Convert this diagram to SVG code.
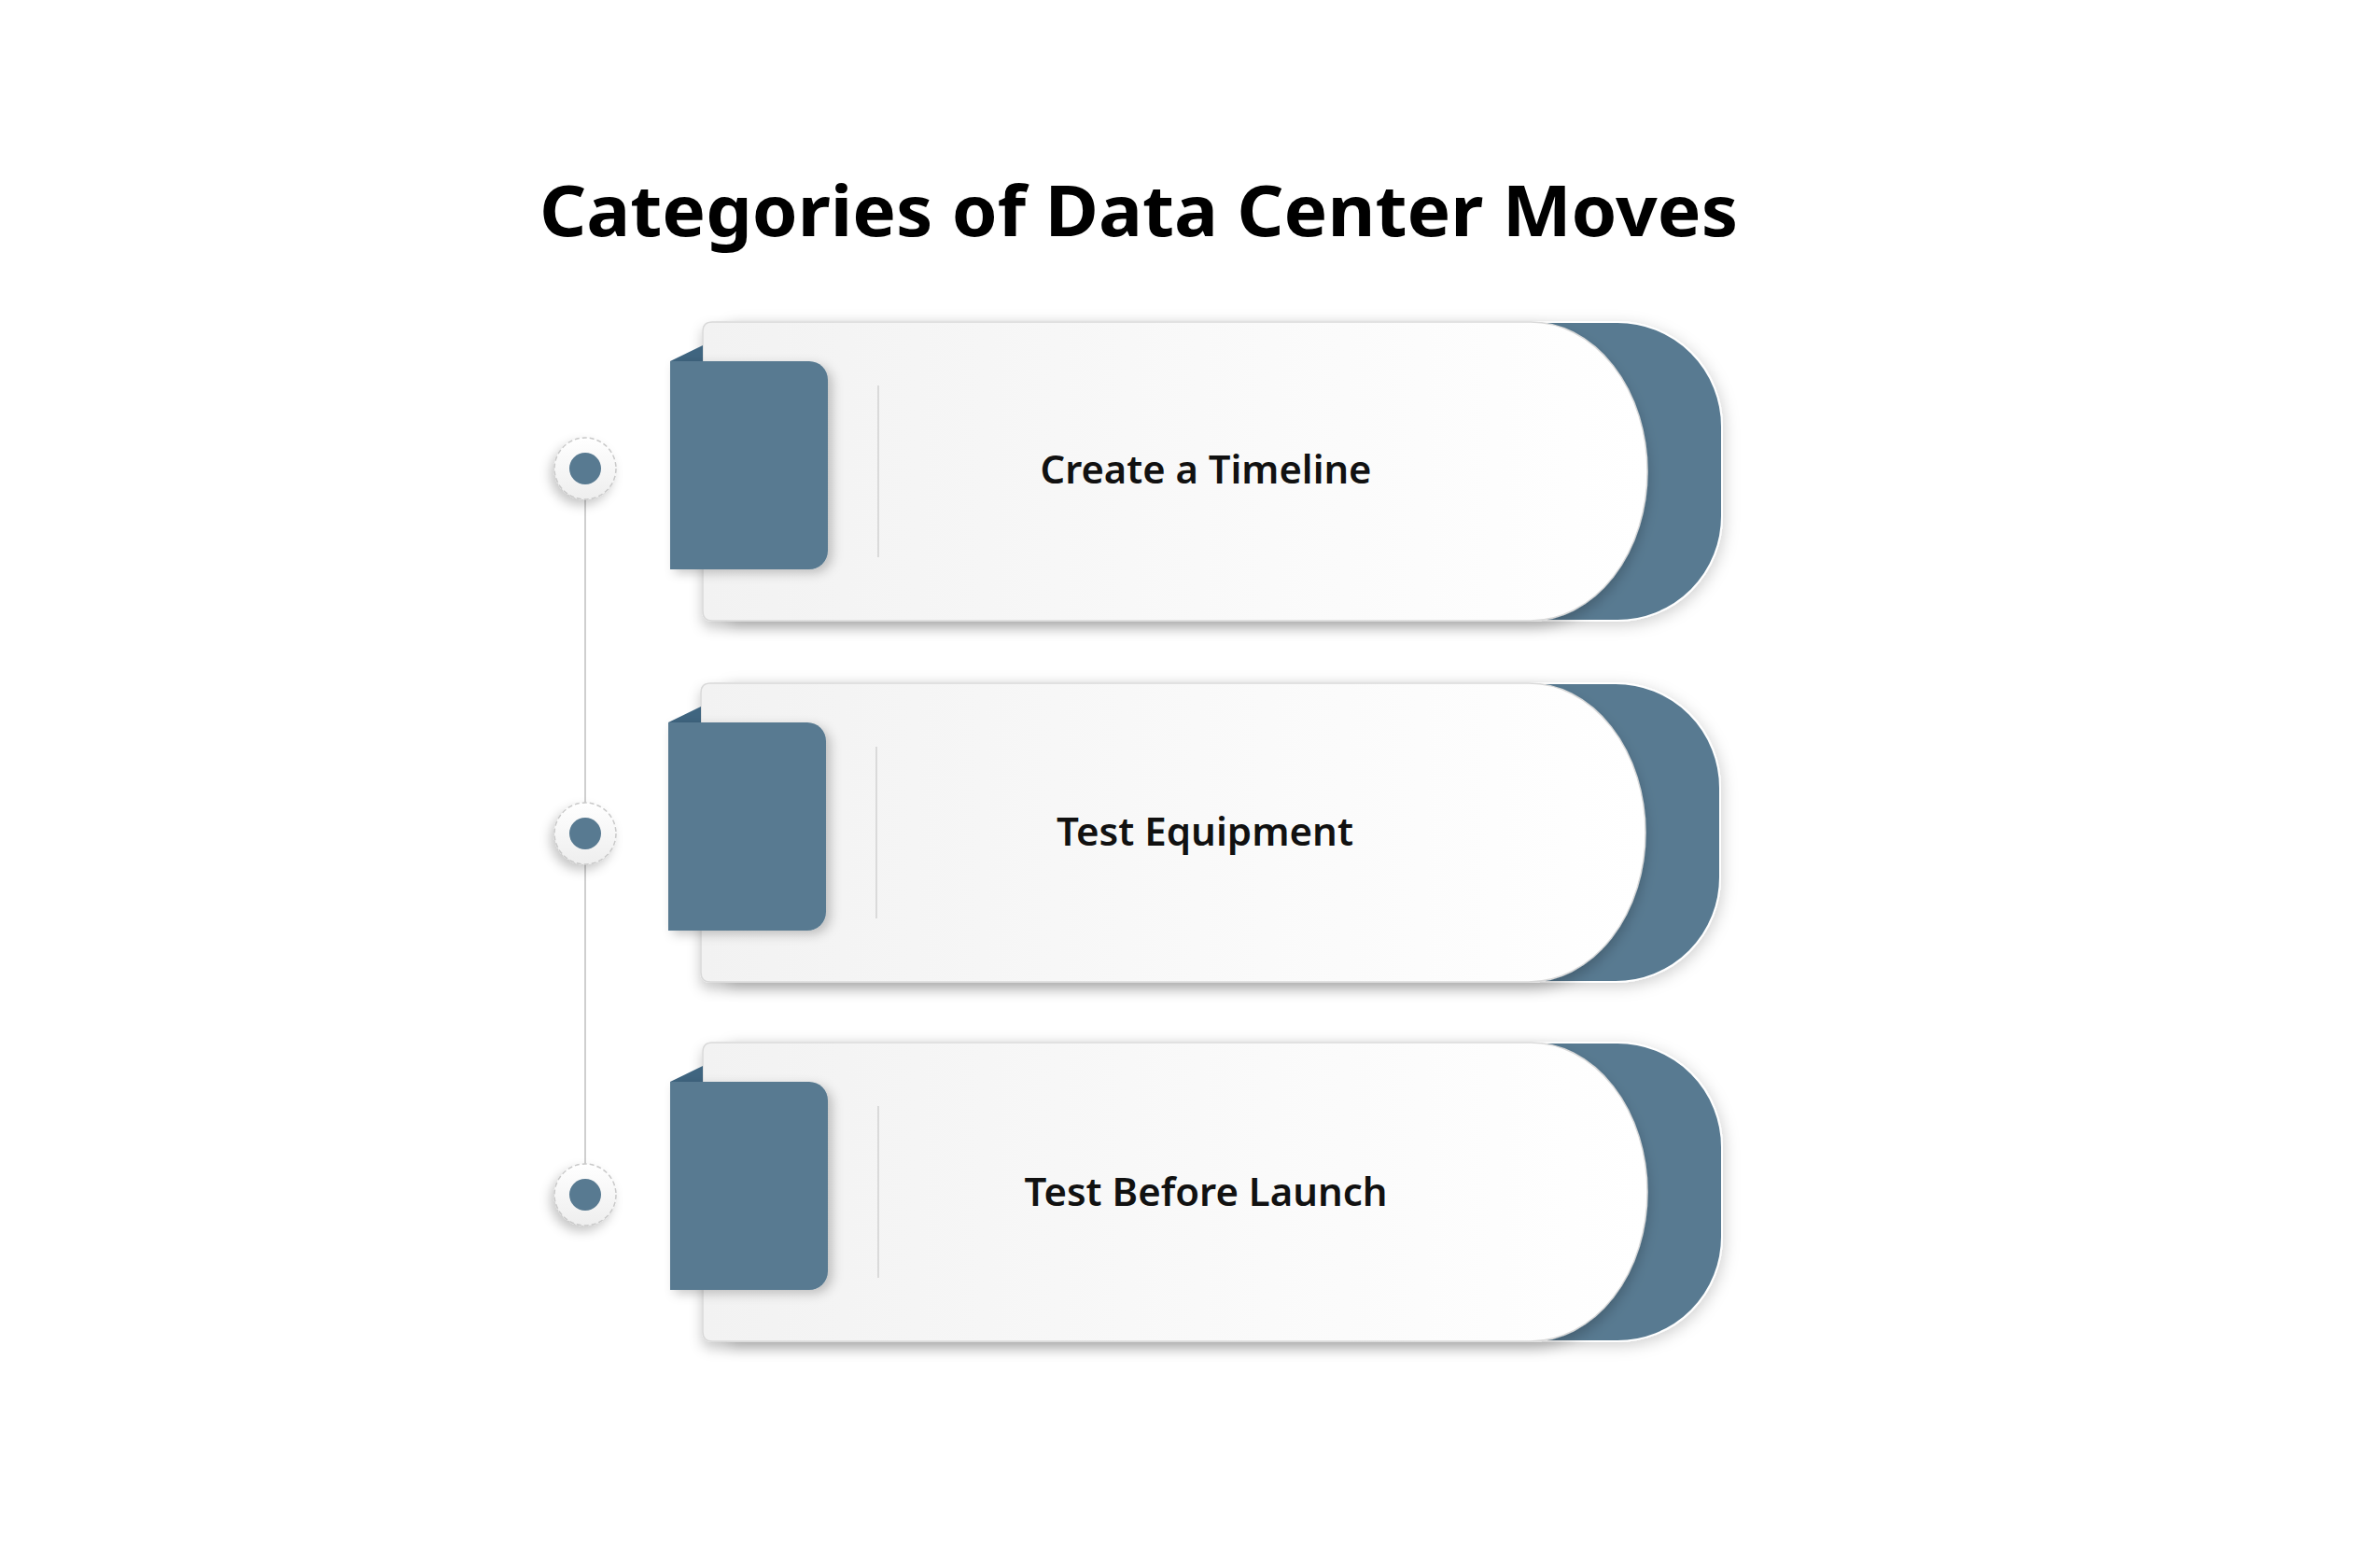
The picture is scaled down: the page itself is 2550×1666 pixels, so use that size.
<svg xmlns="http://www.w3.org/2000/svg" width="2550" height="1666" viewBox="0 0 2550 1666">
<defs>
<style>
.title{font-family:"Noto Sans","Liberation Sans",sans-serif;font-weight:700;font-size:76px;fill:#000}
.lbl{font-family:"Noto Sans","Liberation Sans",sans-serif;font-weight:600;font-size:42px;fill:#111;text-anchor:middle}
.back{fill:#587a91;stroke:#ffffff;stroke-width:2}
.card{fill:url(#cardGrad);stroke:#d9d9d9;stroke-width:1.5}
.tab{fill:#587a91}
.fold{fill:#3f6580}
.div{stroke:#dadada;stroke-width:2}
.ring{fill:url(#ringGrad);stroke:#c9c9c9;stroke-width:1.5;stroke-dasharray:5 3}
.dot{fill:#587a91}
.conn{stroke:#cfcfcf;stroke-width:2;fill:none}
</style>
<linearGradient id="cardGrad" x1="0" y1="0" x2="1" y2="0">
<stop offset="0" stop-color="#f2f2f2"/>
<stop offset="0.6" stop-color="#fafafa"/>
<stop offset="1" stop-color="#ffffff"/>
</linearGradient>
<linearGradient id="ringGrad" x1="0" y1="0" x2="0" y2="1">
<stop offset="0" stop-color="#ffffff"/>
<stop offset="1" stop-color="#eeeeee"/>
</linearGradient>
<filter id="shCard" x="-10%" y="-20%" width="120%" height="150%">
<feDropShadow dx="0" dy="7" stdDeviation="7" flood-color="#000" flood-opacity="0.22"/>
</filter>
<filter id="shBack" x="-20%" y="-20%" width="140%" height="150%">
<feDropShadow dx="2" dy="4" stdDeviation="8" flood-color="#000" flood-opacity="0.18"/>
</filter>
<filter id="shTab" x="-20%" y="-20%" width="150%" height="150%">
<feDropShadow dx="5" dy="4" stdDeviation="6" flood-color="#000" flood-opacity="0.22"/>
</filter>
<filter id="shRing" x="-60%" y="-60%" width="220%" height="220%">
<feDropShadow dx="-4" dy="6" stdDeviation="6" flood-color="#000" flood-opacity="0.22"/>
</filter>
<g id="cardShape">
<path class="back" filter="url(#shBack)" d="M780 0 H1733 A112 112 0 0 1 1845 112 V208 A112 112 0 0 1 1733 320 H780 Z"/>
<path class="card" filter="url(#shCard)" d="M763 0 H1640 A125 160 0 0 1 1640 320 H763 Q753 320 753 310 V10 Q753 0 763 0 Z"/>
<path class="fold" d="M718 42 L753 25 L753 42 Z"/>
<path class="tab" filter="url(#shTab)" d="M718 42 H867 A20 20 0 0 1 887 62 V245 A20 20 0 0 1 867 265 H718 Z"/>
<line class="div" x1="941" y1="68" x2="941" y2="252"/>
</g>
</defs>
<rect width="2550" height="1666" fill="#ffffff"/>
<text class="title" x="578" y="253" textLength="1284" lengthAdjust="spacingAndGlyphs">Categories of Data Center Moves</text>
<g id="connectors">
<line class="conn" x1="627" y1="502" x2="627" y2="1280"/>
</g>
<g id="node1">
<use href="#cardShape" x="0" y="345"/>
<text class="lbl" x="1292" y="518" textLength="355" lengthAdjust="spacingAndGlyphs">Create a Timeline</text>
<circle class="ring" filter="url(#shRing)" cx="627" cy="502" r="33"/>
<circle class="dot" cx="627" cy="502" r="17"/>
</g>
<g id="node2">
<use href="#cardShape" x="-2" y="732"/>
<text class="lbl" x="1291" y="906" textLength="318" lengthAdjust="spacingAndGlyphs">Test Equipment</text>
<circle class="ring" filter="url(#shRing)" cx="627" cy="893" r="33"/>
<circle class="dot" cx="627" cy="893" r="17"/>
</g>
<g id="node3">
<use href="#cardShape" x="0" y="1117"/>
<text class="lbl" x="1292" y="1292" textLength="389" lengthAdjust="spacingAndGlyphs">Test Before Launch</text>
<circle class="ring" filter="url(#shRing)" cx="627" cy="1280" r="33"/>
<circle class="dot" cx="627" cy="1280" r="17"/>
</g>
</svg>
